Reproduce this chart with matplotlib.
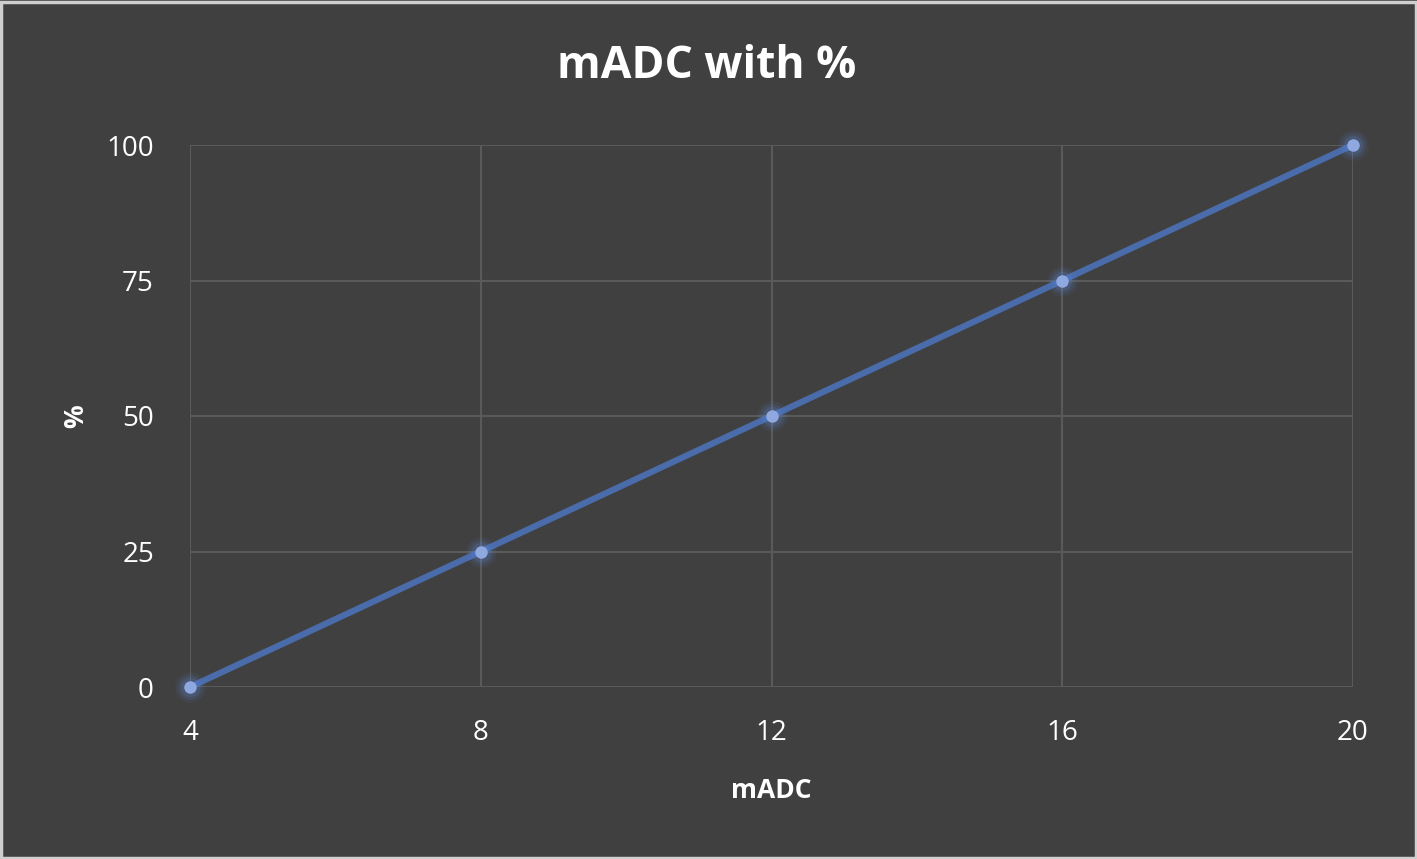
import matplotlib
matplotlib.use("Agg")
import matplotlib.pyplot as plt
from matplotlib.patches import Rectangle

madc = [4, 8, 12, 16, 20]
percent = [0, 25, 50, 75, 100]
x_ticks = [4, 8, 12, 16, 20]
y_ticks = [0, 25, 50, 75, 100]

plt.rcParams['font.family'] = ['Open Sans', 'DejaVu Sans']

bg = '#404040'
fig = plt.figure(figsize=(14.17, 8.59), dpi=100, facecolor=bg)
ax = fig.add_axes([190/1417, 1-687/859, (1353-190)/1417, (687-145)/859])
ax.set_facecolor(bg)

ax.set_xlim(4, 20)
ax.set_ylim(0, 100)
ax.set_xticks(x_ticks)
ax.set_yticks(y_ticks)
ax.grid(True, color='#5a5a5a', linewidth=1.5)
ax.set_axisbelow(True)
for s in ax.spines.values():
    s.set_visible(False)
ax.tick_params(length=0, colors='white', labelsize=20)
ax.tick_params(axis='x', pad=23)
ax.tick_params(axis='y', pad=26)

ax.plot(madc, percent, color='#4a6cab', linewidth=4.5, solid_capstyle='round', zorder=3, clip_on=False)
for ms, a in [(22, 0.08), (18, 0.12), (14, 0.2)]:
    ax.plot(madc, percent, 'o', color='#5b85d6', markersize=ms, alpha=a, markeredgewidth=0, zorder=4, clip_on=False)
ax.plot(madc, percent, 'o', color='#8fa9e0', markersize=9, markeredgewidth=0, zorder=5, clip_on=False)

fig.text(707/1417, 1-66/859, 'mADC with %', color='white', fontsize=32, fontweight='bold', ha='center', va='center')
ax.set_xlabel('mADC', color='white', fontsize=19, fontweight='bold', labelpad=22)
ax.set_ylabel('%', color='white', fontsize=19, fontweight='bold', labelpad=12)

fig.patches.append(Rectangle((0.001, 0.001), 0.998, 0.997, transform=fig.transFigure,
                             fill=False, edgecolor='#cfcfcf', linewidth=2.5))

fig.savefig('out.png', dpi=100, facecolor=bg)
